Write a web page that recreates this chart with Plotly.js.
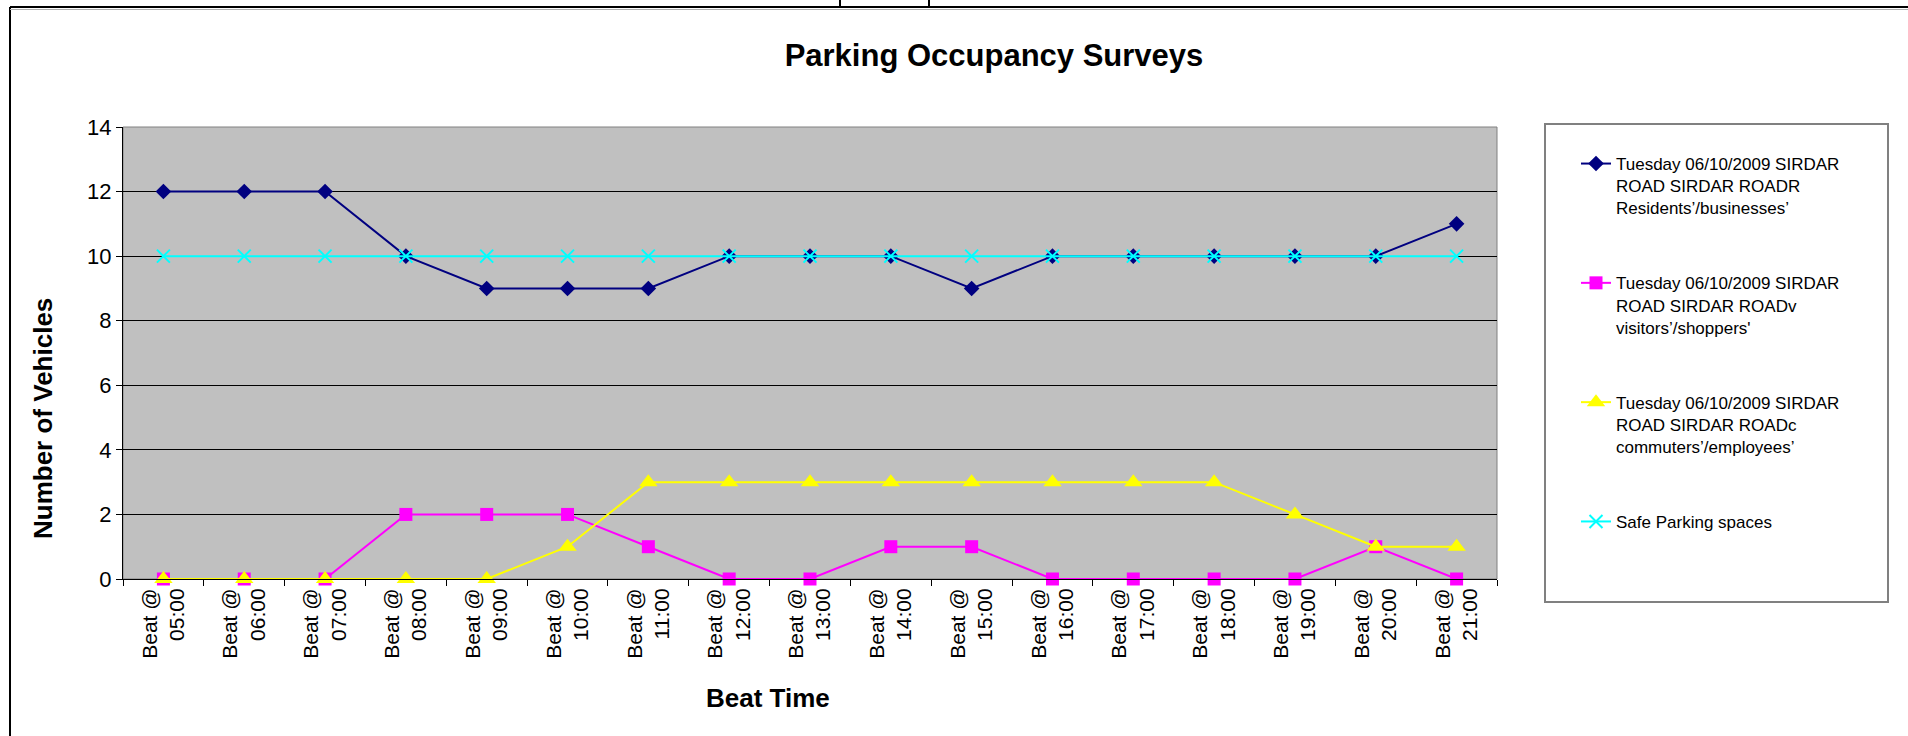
<!DOCTYPE html>
<html>
<head>
<meta charset="utf-8">
<script src="https://cdn.plot.ly/plotly-3.0.1.min.js"></script>
<style>html,body{margin:0;padding:0;background:#fff;}#chart{width:1908px;height:736px;}</style>
</head>
<body>
<div id="chart"></div>
<script>
// ---- data ----
const beatTimes = ['05:00','06:00','07:00','08:00','09:00','10:00','11:00','12:00','13:00','14:00','15:00','16:00','17:00','18:00','19:00','20:00','21:00'];
const residents = [12,12,12,10,9,9,9,10,10,10,9,10,10,10,10,10,11];
const visitors  = [0,0,0,2,2,2,1,0,0,1,1,0,0,0,0,1,0];
const commuters = [0,0,0,0,0,1,3,3,3,3,3,3,3,3,2,1,1];
const safeSpaces = [10,10,10,10,10,10,10,10,10,10,10,10,10,10,10,10,10];
const seriesNames = [
  'Tuesday 06/10/2009 SIRDAR<br>ROAD SIRDAR ROADR<br>Residents\u2019/businesses\u2019',
  'Tuesday 06/10/2009 SIRDAR<br>ROAD SIRDAR ROADv<br>visitors\u2019/shoppers\'',
  'Tuesday 06/10/2009 SIRDAR<br>ROAD SIRDAR ROADc<br>commuters\u2019/employees\u2019',
  'Safe Parking spaces'
];
const yTicks = [0,2,4,6,8,10,12,14];
const chartTitle = 'Parking Occupancy Surveys';
const xTitle = 'Beat Time';
const yTitle = 'Number of Vehicles';

// ---- layout helpers ----
const W = 1908, H = 736;
const L = 123, R = 1497, T = 127, B = 579;
const px = x => (x - L) / (R - L);
const py = y => (B - y) / (B - T);
const FONT = 'Arial, "Liberation Sans", sans-serif';

const cats = beatTimes.map(t => 'Beat @<br>' + t);

const traces = [
  {y: residents, name: seriesNames[0], color: '#000080', symbol: 'diamond', size: 12},
  {y: visitors, name: seriesNames[1], color: '#FF00FF', symbol: 'square', size: 13},
  {y: commuters, name: seriesNames[2], color: '#FFFF00', symbol: 'triangle-up', size: 16},
  {y: safeSpaces, name: seriesNames[3], color: '#00FFFF', symbol: 'x-thin', size: 13}
].map((s, i) => ({
  type: 'scatter', mode: 'lines+markers', x: cats, y: s.y, name: s.name,
  legendgroup: 'g' + i,
  line: {color: s.color, width: 2},
  marker: s.symbol === 'x-thin'
    ? {symbol: 'x-thin', size: s.size, color: s.color, line: {color: s.color, width: 2}}
    : {symbol: s.symbol, size: s.size, color: s.color, line: {width: 0}},
  cliponaxis: false
}));

const blk = {color: '#000', width: 2};
const layout = {
  width: W, height: H,
  margin: {l: L, r: W - R, t: T, b: H - B, pad: 0},
  paper_bgcolor: '#ffffff', plot_bgcolor: '#C0C0C0',
  font: {family: FONT, color: '#000'},
  showlegend: true,
  hovermode: false,
  title: {text: chartTitle, font: {family: FONT, size: 31, weight: 700, color: '#000'},
          xref: 'paper', x: px(994), xanchor: 'center', yref: 'container', y: 1 - 55 / H, yanchor: 'middle'},
  xaxis: {
    type: 'category', categoryorder: 'array', categoryarray: cats,
    range: [-0.5, cats.length - 0.5], tickangle: -90,
    tickfont: {family: FONT, size: 21, color: '#000'},
    ticks: 'outside', tickson: 'boundaries', ticklen: 6, tickcolor: '#000', tickwidth: 1,
    showline: true, linecolor: '#000', linewidth: 1, showgrid: false, zeroline: false,
    fixedrange: true
  },
  yaxis: {
    range: [0, 14], tickvals: yTicks, ticktext: yTicks.map(String),
    tickfont: {family: FONT, size: 22, color: '#000'},
    ticks: 'outside', ticklen: 6, tickcolor: '#000', tickwidth: 1,
    showline: true, linecolor: '#000', linewidth: 1,
    showgrid: true, gridcolor: '#000', gridwidth: 1, zeroline: false,
    fixedrange: true
  },
  legend: {
    x: px(1576), y: py(146), xanchor: 'left', yanchor: 'top',
    xref: 'paper', yref: 'paper',
    bgcolor: 'rgba(0,0,0,0)', borderwidth: 0,
    font: {family: FONT, size: 17, color: '#000'},
    valign: 'top', traceorder: 'grouped', tracegroupgap: 50
  },
  annotations: [
    {text: yTitle, xref: 'paper', yref: 'paper', x: px(43), y: py(419), showarrow: false,
     textangle: -90, xanchor: 'center', yanchor: 'middle',
     font: {family: FONT, size: 26, weight: 700, color: '#000'}},
    {text: xTitle, xref: 'paper', yref: 'paper', x: px(768), y: py(698), showarrow: false,
     xanchor: 'center', yanchor: 'middle',
     font: {family: FONT, size: 26, weight: 700, color: '#000'}}
  ],
  shapes: [
    // plot area border
    {type: 'rect', xref: 'paper', yref: 'paper', x0: 0, x1: 1, y0: 0, y1: 1,
     line: {color: '#808080', width: 1}, layer: 'between'},
    // legend box
    {type: 'rect', xref: 'paper', yref: 'paper', x0: px(1545), x1: px(1888), y0: py(602), y1: py(124),
     line: {color: '#808080', width: 2}},
    // outer chart frame (left and top)
    {type: 'line', xref: 'paper', yref: 'paper', x0: px(10), x1: px(10), y0: py(7), y1: py(736), line: blk},
    {type: 'line', xref: 'paper', yref: 'paper', x0: px(10), x1: px(1908), y0: py(7), y1: py(7), line: blk},
    {type: 'line', xref: 'paper', yref: 'paper', x0: px(10), x1: px(1908), y0: py(9.5), y1: py(9.5), line: {color: '#b0b0b0', width: 1}},
    {type: 'line', xref: 'paper', yref: 'paper', x0: px(840), x1: px(840), y0: py(0), y1: py(7), line: blk},
    {type: 'line', xref: 'paper', yref: 'paper', x0: px(929), x1: px(929), y0: py(0), y1: py(7), line: blk}
  ]
};

Plotly.newPlot('chart', traces, layout, {displayModeBar: false, staticPlot: true});
</script>
</body>
</html>
